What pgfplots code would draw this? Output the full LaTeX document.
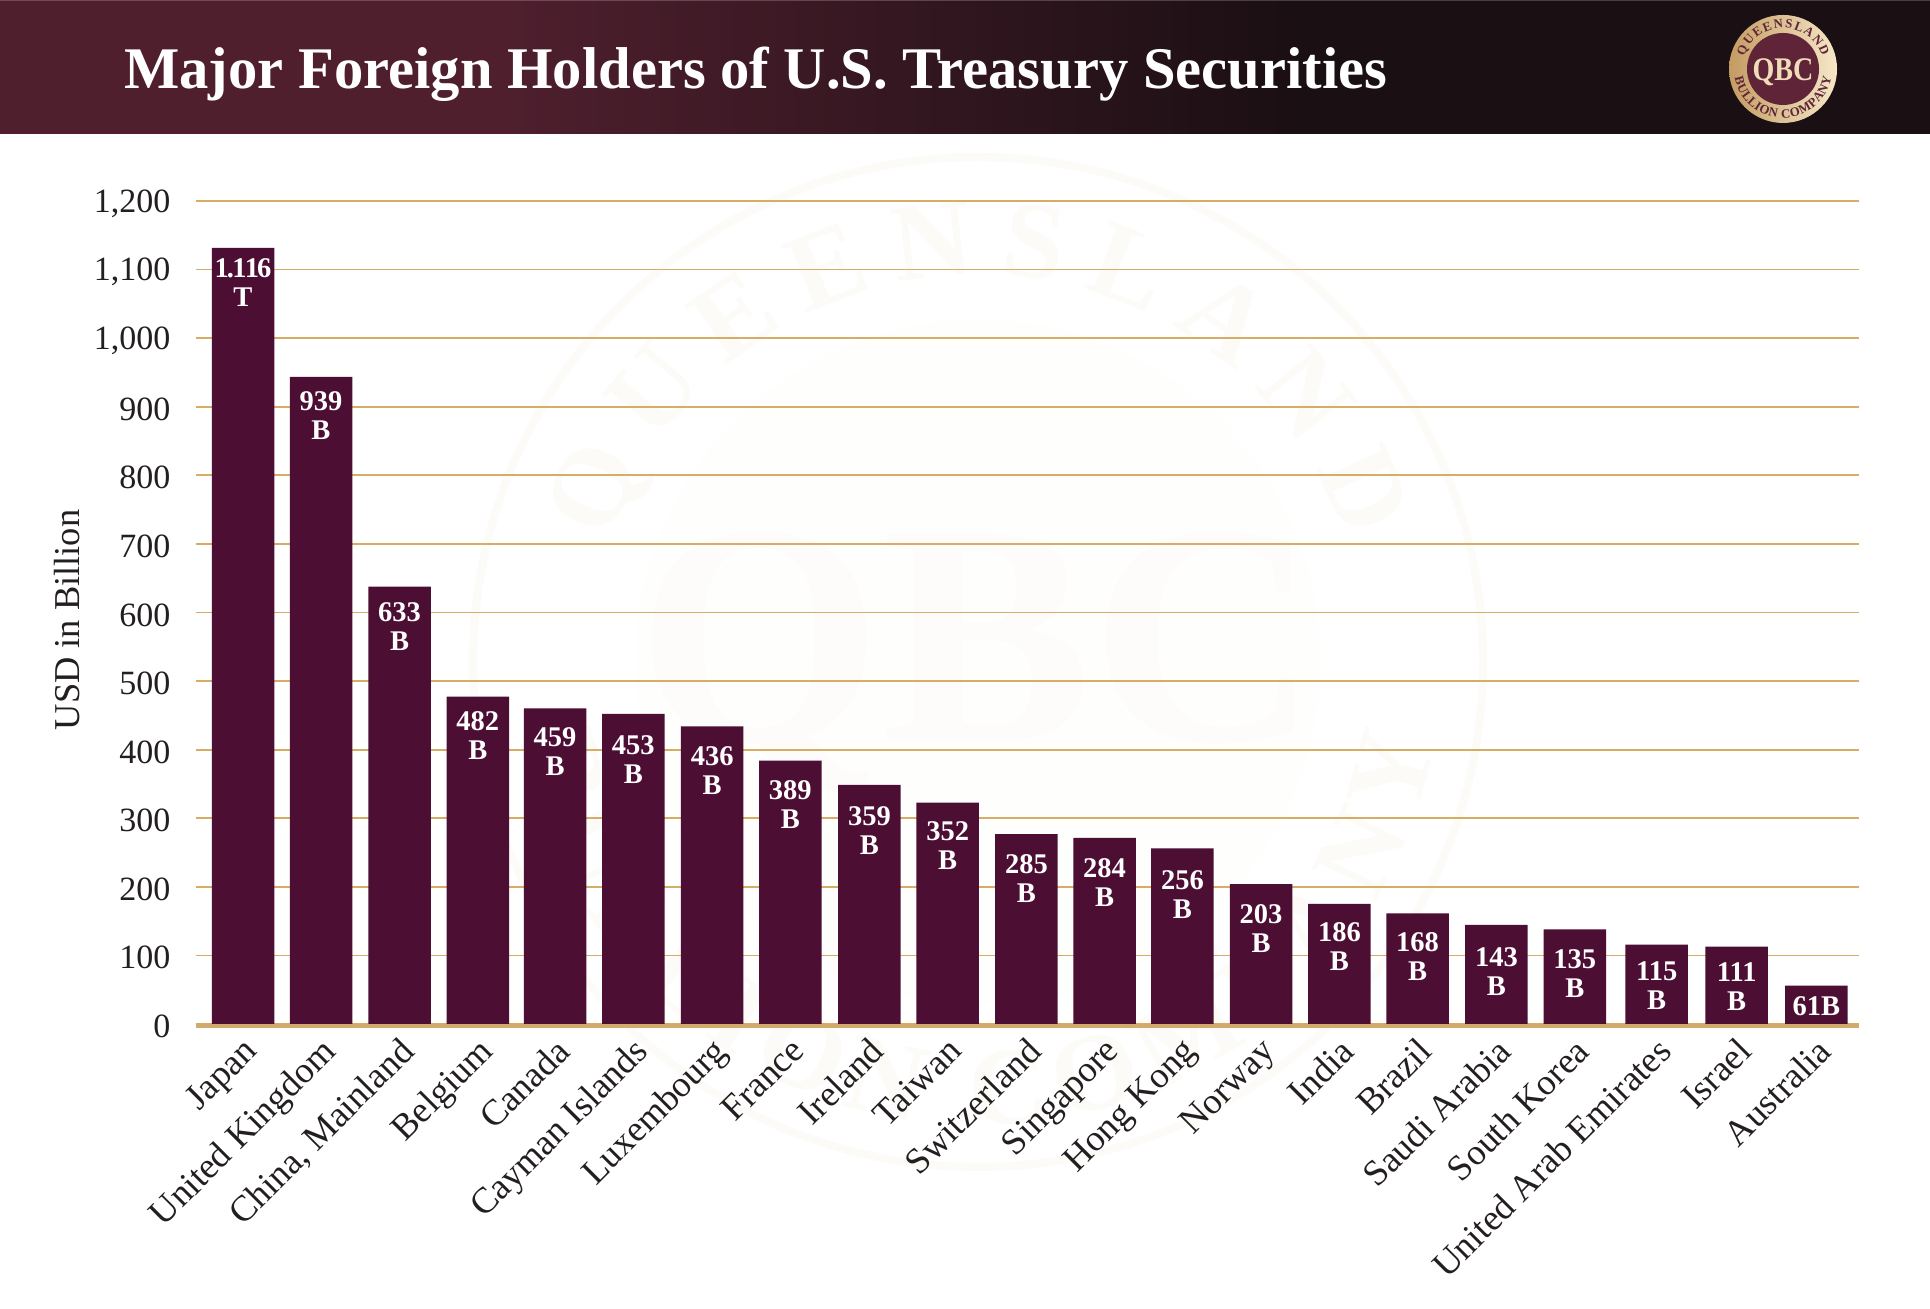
\documentclass[border=0pt]{standalone}
\usepackage{fontspec}
\setmainfont{Liberation Serif}
\usepackage{pgfplots}
\usepackage{pgfplotstable}
\pgfplotsset{compat=1.18}
\usetikzlibrary{decorations.text}

\definecolor{barcol}{HTML}{4C0E33}
\definecolor{gridcol}{HTML}{D6AC66}
\definecolor{basecol}{HTML}{D1AA6C}
\definecolor{inkcol}{HTML}{231F20}
\definecolor{bannerA}{HTML}{4F1F2E}
\definecolor{bannerB}{HTML}{1A0F13}
\definecolor{sealred}{HTML}{5F2438}
\definecolor{goldA}{HTML}{C49B62}
\definecolor{goldB}{HTML}{F6E8C8}
\definecolor{qbccol}{HTML}{EEDDB8}
\definecolor{wmline}{HTML}{FCFBF8}
\definecolor{wmfill}{HTML}{FEFEFC}
\definecolor{wmqbc}{HTML}{FDFCFA}

% pos = bar centre in reference pixels, dy = gap from bar top to label in pixels
\pgfplotstableread{
pos     val     dy    name                    lab
243.0   1131.5  10.0  {Japan}                 {1\kern-.9pt.\kern-.9pt1\kern-.9pt1\kern-.9pt6\\T}
321.0   943.4   14.7  {United Kingdom}        {939\\B}
399.6   637.7   16.0  {China, Mainland}       {633\\B}
477.8   477.3   14.3  {Belgium}               {482\\B}
555.0   460.3   19.0  {Canada}                {459\\B}
633.3   452.0   21.0  {Cayman Islands}        {453\\B}
712.2   434.0   20.0  {Luxembourg}            {436\\B}
790.3   384.0   20.0  {France}                {389\\B}
869.4   348.5   21.7  {Ireland}               {359\\B}
947.7   322.7   19.0  {Taiwan}                {352\\B}
1026.4  277.0   20.0  {Switzerland}           {285\\B}
1104.6  271.2   20.0  {Singapore}             {284\\B}
1182.4  256.2   21.7  {Hong Kong}             {256\\B}
1261.0  204.0   20.0  {Norway}                {203\\B}
1339.4  175.0   17.7  {India}                 {186\\B}
1417.5  161.4   19.3  {Brazil}                {168\\B}
1496.4  144.4   22.7  {Saudi Arabia}          {143\\B}
1574.8  138.0   20.0  {South Korea}           {135\\B}
1656.7  115.6   17.0  {United Arab Emirates}  {115\\B}
1736.7  112.7   16.0  {Israel}                {111\\B}
1816.3  55.8    11.0  {Australia}             {61B}
}\holders

% ring text of the seal; #1,#2 centre, #3 scale, #4 colour, #5 font size
\newcommand{\sealtext}[5]{%
  \pgfmathsetmacro{\rtop}{41*#3}%
  \pgfmathsetmacro{\rbot}{49*#3}%
  \begin{scope}[shift={(#1,#2)}]
    \path[postaction={decorate,decoration={text along path,text align={fit to path},
        text color=#4,
        text={|\fontsize{#5pt}{#5pt}\selectfont\bfseries|QUEENSLAND}}}]
      (162:\rtop) arc[start angle=162,end angle=18,radius=\rtop];
    \path[postaction={decorate,decoration={text along path,text align={fit to path},
        text color=#4,
        text={|\fontsize{#5pt}{#5pt}\selectfont\bfseries|BULLION COMPANY}}}]
      (190:\rbot) arc[start angle=190,end angle=350,radius=\rbot];
  \end{scope}
}

\begin{document}
\begin{tikzpicture}[x=0.5pt,y=0.5pt]
\useasboundingbox (0,0) rectangle (1930,1309);
\fill[white] (0,0) rectangle (1930,1309);

% banner
\fill[bannerA] (0,1175) rectangle (500,1309);
\shade[left color=bannerA,right color=bannerB] (499,1175) rectangle (1300,1309);
\fill[bannerB] (1299,1175) rectangle (1930,1309);
\fill[white,opacity=0.2] (0,1307.5) rectangle (1930,1309);
\node[anchor=base west,inner sep=0pt,text=white,xscale=0.993,font=\fontsize{29.5pt}{30pt}\selectfont\bfseries]
  at (124,1220) {Major Foreign Holders of U.S. Treasury Securities};

% seal in the banner
\shade[left color=goldA,right color=goldB] (1783,1240) circle[radius=54];
\fill[sealred] (1783,1240) circle[radius=36];
\sealtext{1783}{1240}{1}{sealred}{6.4}
\node[text=qbccol,inner sep=0pt,xscale=0.85,font=\fontsize{16.5pt}{17pt}\selectfont\bfseries]
  at (1783,1237) {QBC};

% faint watermark
\draw[wmline,line width=4pt] (978,647) circle[radius=505];
\fill[wmfill] (978,647) circle[radius=342];
\sealtext{978}{647}{9.45}{wmline}{55}
\node[text=wmqbc,inner sep=0pt,font=\fontsize{157pt}{157pt}\selectfont\bfseries]
  at (978,647) {QBC};

\begin{axis}[
  at={(97.75pt,142.5pt)},anchor=origin,
  width=831.75pt,height=411.5pt,scale only axis,
  ybar,clip=false,
  xmin=195.5,xmax=1859,
  ymin=0,ymax=1200,
  ytick distance=100,
  xtick=data,
  xticklabels from table={\holders}{name},
  major tick length=0pt,
  axis line style={draw=none},
  ymajorgrids,
  major grid style={gridcol,line width=0.85pt},
  bar width=62.5,
  /pgf/number format/assume math mode=true,
  /pgf/number format/1000 sep={,},
  tick label style={text=inkcol},
  yticklabel style={xshift=-9pt,yshift=-1.2pt,font=\fontsize{17pt}{18pt}\selectfont},
  xticklabel style={rotate=45,anchor=north east,inner sep=1pt,xshift=-3.5pt,yshift=-2.5pt,font=\fontsize{18.2pt}{19pt}\selectfont},
  ylabel={USD in Billion},
  every axis y label/.style={at={(axis description cs:-0.0775,0.491)},rotate=90,anchor=center},
  label style={text=inkcol,font=\fontsize{18.2pt}{19pt}\selectfont},
]
\addplot[fill=barcol,draw=none,
  point meta=explicit symbolic,
  visualization depends on=\thisrow{dy} \as \labdy,
  nodes near coords,
  nodes near coords style={anchor=north,yshift={-0.5pt*\labdy},inner sep=0pt,align=center,
    text=white,font=\fontsize{14.25pt}{14.5pt}\selectfont\bfseries},
] table[x=pos,y=val,meta=lab] {\holders};
\draw[basecol,line width=2.4pt,yshift=-1pt] (rel axis cs:0,0) -- (rel axis cs:1,0);
\end{axis}
\end{tikzpicture}
\end{document}
